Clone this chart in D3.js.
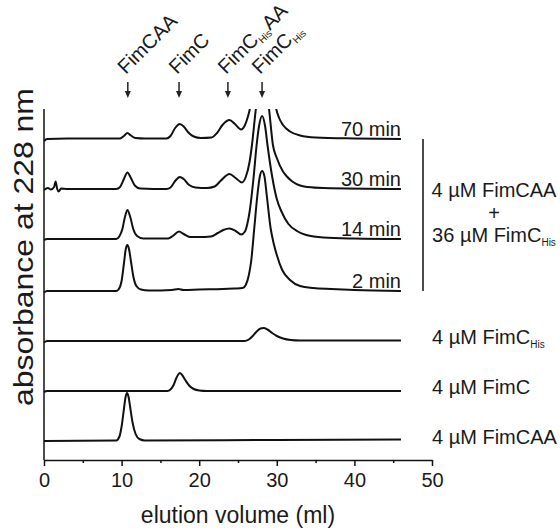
<!DOCTYPE html>
<html>
<head>
<meta charset="utf-8">
<script src="https://cdn.jsdelivr.net/npm/d3@7"></script>
<style>
  body { margin: 0; background: #fff; }
  text { font-family: "Liberation Sans", Arial, sans-serif; fill: #1a1a1a; }
</style>
</head>
<body>
<svg width="560" height="529"></svg>
<script>
'use strict';

// elution volume (ml) vs absorbance above each trace's own baseline
const trace70 = [
  [0, -0.04], [0.4, 0], [3, 0.01], [9.8, 0.01], [10.3, 0.06], [10.75, 0.12], [11.2, 0.07],
  [11.8, 0.02], [13, 0.01], [15.8, 0.01], [16.3, 0.06], [16.9, 0.22], [17.5, 0.3], [18.0, 0.25],
  [18.6, 0.13], [19.3, 0.05], [20.2, 0.02], [21.6, 0.03], [22.3, 0.12], [23.0, 0.28], [23.9, 0.38],
  [24.6, 0.3], [25.4, 0.19], [25.9, 0.28], [26.3, 0.46], [26.6, 0.66], [27.0, 1.15], [27.6, 2.2],
  [28.2, 2.7], [28.8, 2.2], [29.4, 1.2], [29.9, 0.62], [30.3, 0.42], [30.8, 0.28], [31.7, 0.15],
  [33, 0.07], [35, 0.03], [40, 0.01], [46, 0]
];
const trace30 = [
  [0, -0.02], [0.5, 0.02], [0.9, -0.01], [1.3, 0.04], [1.5, 0.15], [1.7, 0], [1.9, -0.05],
  [2.2, 0.01], [3, 0], [9.3, 0], [9.8, 0.04], [10.3, 0.2], [10.75, 0.33], [11.2, 0.22],
  [11.7, 0.07], [12.4, 0.01], [15.8, 0], [16.3, 0.03], [16.9, 0.16], [17.5, 0.24], [18.0, 0.2],
  [18.7, 0.08], [19.5, 0.03], [21, 0.02], [22.0, 0.05], [22.8, 0.17], [23.9, 0.3], [24.7, 0.22],
  [25.5, 0.13], [26.0, 0.24], [26.5, 0.55], [26.8, 0.88], [27.3, 1.6], [28.2, 2.5], [29.0, 1.6],
  [29.5, 0.88], [30.0, 0.62], [30.8, 0.35], [31.3, 0.25], [32, 0.15], [33, 0.07], [34, 0.04],
  [36, 0.02], [46, 0]
];
const trace14 = [
  [0, -0.02], [0.4, 0], [9.3, 0], [9.7, 0.05], [10.1, 0.2], [10.4, 0.42], [10.75, 0.58],
  [11.1, 0.45], [11.5, 0.2], [12.0, 0.06], [12.8, 0.01], [16.0, 0.01], [16.6, 0.06], [17.4, 0.15],
  [18.0, 0.1], [18.8, 0.04], [20, 0.04], [21.5, 0.05], [22.4, 0.12], [23.1, 0.18], [23.9, 0.21],
  [24.7, 0.16], [25.4, 0.09], [25.9, 0.15], [26.2, 0.3], [26.5, 0.55], [27.0, 1.22], [27.4, 1.88],
  [27.7, 2.25], [28.1, 2.46], [28.5, 2.25], [28.8, 1.88], [29.4, 1.25], [30.0, 0.8], [30.6, 0.55],
  [31.5, 0.3], [32.7, 0.15], [33.8, 0.08], [36, 0.03], [40, 0.01], [46, 0]
];
const trace2 = [
  [0, -0.03], [0.4, 0], [9.3, 0], [9.6, 0.03], [10.0, 0.2], [10.3, 0.55], [10.55, 0.85],
  [10.75, 0.92], [10.95, 0.84], [11.2, 0.6], [11.5, 0.3], [11.9, 0.1], [12.5, 0.03], [13.5, 0.01],
  [16.5, 0.02], [17.3, 0.04], [18.0, 0.02], [20, 0.03], [23, 0.04], [24.5, 0.05], [25.6, 0.06],
  [26.0, 0.12], [26.4, 0.32], [26.7, 0.6], [27.1, 1.26], [27.5, 1.92], [27.8, 2.28], [28.1, 2.4],
  [28.4, 2.3], [28.7, 1.92], [29.2, 1.26], [29.6, 0.95], [30.0, 0.72], [30.7, 0.42], [31.7, 0.22],
  [33, 0.1], [34.7, 0.06], [37, 0.04], [40, 0.02], [46, 0]
];
const traceHis = [
  [0, -0.03], [0.4, 0], [25.8, 0], [26.4, 0.03], [26.9, 0.1], [27.4, 0.19], [27.9, 0.25],
  [28.3, 0.26], [28.8, 0.23], [29.4, 0.16], [30.0, 0.1], [30.8, 0.05], [31.8, 0.02], [33, 0.01],
  [46, 0.01]
];
const traceC = [
  [0, -0.02], [0.4, 0], [15.9, 0], [16.3, 0.03], [16.7, 0.12], [17.0, 0.24], [17.3, 0.33],
  [17.5, 0.36], [17.8, 0.32], [18.2, 0.22], [18.7, 0.11], [19.3, 0.04], [20.0, 0.01], [21, 0],
  [46, 0]
];
const traceCAA = [
  [0, 0], [9.3, 0.01], [9.7, 0.08], [10.0, 0.29], [10.3, 0.64], [10.5, 0.87], [10.7, 0.96],
  [10.9, 0.88], [11.1, 0.68], [11.4, 0.38], [11.8, 0.14], [12.3, 0.04], [13, 0.01], [30, 0.02],
  [46, 0.03]
];

const traces = [trace70, trace30, trace14, trace2, traceHis, traceC, traceCAA];
const traceOffsets = [6.42, 5.42, 4.42, 3.38, 2.38, 1.38, 0.38];
const timeLabels = ["70 min", "30 min", "14 min", "2 min"];
// odd entries are subscripts
const sampleLabels = [["4 µM FimC", "His"], ["4 µM FimC"], ["4 µM FimCAA"]];
const mixLabels = [["4 µM FimCAA"], ["+"], ["36 µM FimC", "His"]];
const markerVolumes = [10.8, 17.4, 23.7, 28.1];
const markerLabels = [["FimCAA"], ["FimC"], ["FimC", "His", "AA"], ["FimC", "His"]];
const majorTicks = [0, 10, 20, 30, 40, 50];
const minorTicks = [5, 15, 25, 35, 45];

const svg = d3.select("svg");
const x = d3.scaleLinear().domain([0, 50]).range([44, 432]);
const y = d3.scaleLinear().domain([0, 7.02]).range([460, 109]);

function addRich(sel, parts, subSize) {
  parts.forEach((p, i) => {
    const t = sel.append("tspan").text(p);
    if (i % 2 === 1) t.attr("font-size", subSize).attr("dy", 4);
    else if (i > 0) t.attr("dy", -4);
  });
}

svg.append("defs").append("clipPath").attr("id", "plot")
  .append("rect").attr("x", 40).attr("y", y.range()[1]).attr("width", 400).attr("height", 360);

const line = d3.line().curve(d3.curveMonotoneX);

svg.append("g").attr("clip-path", "url(#plot)")
  .selectAll("path").data(traces).join("path")
    .attr("d", (d, i) => line(d.map(p => [x(p[0]), y(p[1] + traceOffsets[i])])))
    .attr("fill", "none")
    .attr("stroke", "#111")
    .attr("stroke-width", 2)
    .attr("stroke-linejoin", "round");

// axes
const xAxis = svg.append("g").attr("transform", `translate(0,${y(0)})`)
  .call(d3.axisBottom(x).tickValues(majorTicks).tickSize(6).tickSizeOuter(0).tickPadding(7));
xAxis.append("g")
  .call(d3.axisBottom(x).tickValues(minorTicks).tickSize(3).tickFormat(""))
  .select(".domain").remove();
xAxis.selectAll("path, line").attr("stroke", "#111").attr("stroke-width", 1.5);
xAxis.selectAll("text").attr("font-size", 20).attr("font-family", null).attr("fill", "#1a1a1a");

svg.append("line")
  .attr("x1", x(0)).attr("x2", x(0))
  .attr("y1", y(0)).attr("y2", y.range()[1])
  .attr("stroke", "#111").attr("stroke-width", 1.5);

svg.append("text")
  .attr("x", (x(0) + x(50)) / 2).attr("y", 523)
  .attr("text-anchor", "middle").attr("font-size", 23)
  .text("elution volume (ml)");

svg.append("text")
  .attr("transform", `translate(33,247) rotate(-90)`)
  .attr("text-anchor", "middle").attr("font-size", 28)
  .attr("textLength", 318).attr("lengthAdjust", "spacingAndGlyphs")
  .text("absorbance at 228 nm");

// time labels above the mixture traces
svg.selectAll(".time").data(timeLabels).join("text")
  .attr("class", "time")
  .attr("x", x(46)).attr("y", (d, i) => y(traceOffsets[i]) - 3.5)
  .attr("text-anchor", "end").attr("font-size", 20)
  .text(d => d);

// single-protein labels
svg.selectAll(".sample").data(sampleLabels).join("text")
  .attr("class", "sample")
  .attr("x", 432).attr("y", (d, i) => y(traceOffsets[i + 4]) + 3)
  .attr("font-size", 20)
  .each(function(d) { addRich(d3.select(this), d, 10); });

// bracket for the mixture
svg.append("line")
  .attr("x1", 423).attr("x2", 423)
  .attr("y1", y(traceOffsets[0])).attr("y2", y(traceOffsets[3]))
  .attr("stroke", "#111").attr("stroke-width", 1.5);

const mixY = [197, 220, 242];
mixLabels.forEach((parts, i) => {
  const t = svg.append("text")
    .attr("x", 494).attr("y", mixY[i])
    .attr("text-anchor", "middle").attr("font-size", 20);
  addRich(t, parts, 10);
});

// peak markers: arrow plus a label running up at 45 degrees
const markers = svg.selectAll(".marker").data(markerVolumes).join("g")
  .attr("class", "marker")
  .attr("transform", d => `translate(${x(d)},0)`);
markers.append("line")
  .attr("y1", 82).attr("y2", 93)
  .attr("stroke", "#222").attr("stroke-width", 1.5);
markers.append("path")
  .attr("d", "M-3,91L3,91L0,98Z")
  .attr("fill", "#222");
markers.append("text")
  .attr("transform", "translate(-2,75) rotate(-45)")
  .attr("font-size", 20)
  .each(function(d, i) { addRich(d3.select(this), markerLabels[i], 10); });
</script>
</body>
</html>
